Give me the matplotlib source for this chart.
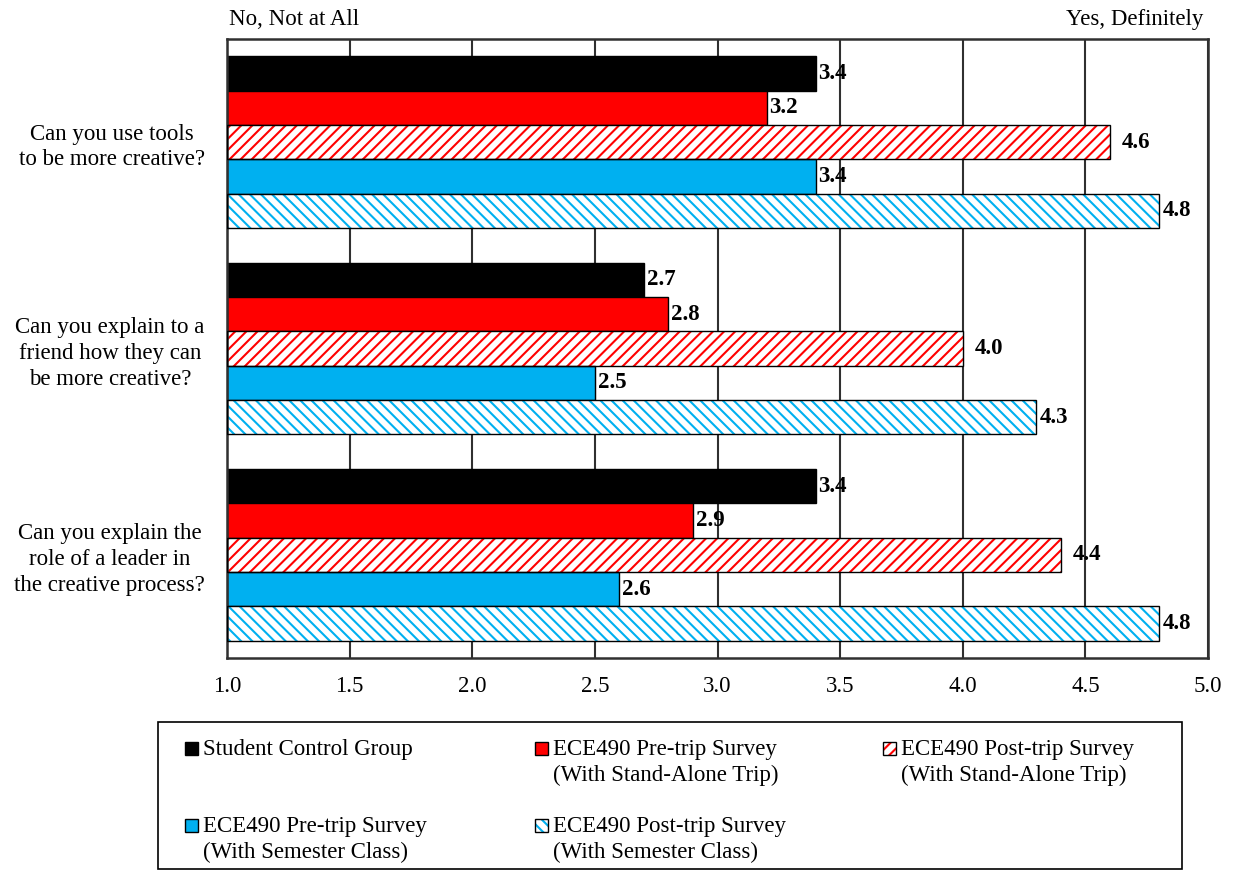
import numpy as np
import matplotlib
matplotlib.use("Agg")
import matplotlib.pyplot as plt
from matplotlib.patches import Rectangle

plt.rcParams['font.family'] = ['Liberation Serif', 'DejaVu Serif']
plt.rcParams['font.size'] = 16.5
plt.rcParams['hatch.linewidth'] = 1.5

# survey questions (y axis) and mean answers per group
questions = ["Can you use tools\nto be more creative?",
             "Can you explain to a\nfriend how they can\nbe more creative?",
             "Can you explain the\nrole of a leader in\nthe creative process?"]

control = [3.4, 2.7, 3.4]
pre_standalone = [3.2, 2.8, 2.9]
post_standalone = [4.6, 4.0, 4.4]
pre_semester = [3.4, 2.5, 2.6]
post_semester = [4.8, 4.3, 4.8]

labels = ["Student Control Group",
          "ECE490 Pre-trip Survey\n(With Stand-Alone Trip)",
          "ECE490 Post-trip Survey\n(With Stand-Alone Trip)",
          "ECE490 Pre-trip Survey\n(With Semester Class)",
          "ECE490 Post-trip Survey\n(With Semester Class)"]

xticks = [1.0, 1.5, 2.0, 2.5, 3.0, 3.5, 4.0, 4.5, 5.0]

RED = '#ff0000'
BLUE = '#00b0f0'
# values, colour, hatch, gap before the value label
series = [
    (control, 'black', None, 0.012),
    (pre_standalone, RED, None, 0.012),
    (post_standalone, RED, '///', 0.05),
    (pre_semester, BLUE, None, 0.012),
    (post_semester, BLUE, '\\\\\\', 0.015),
]

W, H = 1233, 871
fig = plt.figure(figsize=(W/100, H/100), dpi=100)
ax = fig.add_axes([227/W, 1-658/H, (1208-227)/W, (658-39)/H])

y = np.arange(len(questions))
h = 1/6
for i, (vals, col, hatch, gap) in enumerate(series):
    pos = y + (i - 2) * h
    width = np.array(vals) - 1
    if hatch is None:
        ax.barh(pos, width, left=1, height=h, color=col,
                edgecolor='black', linewidth=1, zorder=2)
    else:
        ax.barh(pos, width, left=1, height=h, color='white',
                edgecolor=col, hatch=hatch, linewidth=0, zorder=2)
        ax.barh(pos, width, left=1, height=h, fill=False,
                edgecolor='black', linewidth=1, zorder=3)
    for p, v in zip(pos, vals):
        ax.text(v + gap, p, "%.1f" % v, va='center', ha='left',
                fontweight='bold', zorder=4)

ax.set_xlim(1, 5)
ax.set_ylim(len(questions) - 0.5, -0.5)
ax.set_xticks(xticks)
ax.set_xticklabels(["%.1f" % t for t in xticks])
ax.set_yticks(y)
ax.set_yticklabels(questions)
ax.tick_params(length=0)
ax.tick_params(axis='x', pad=13)
ax.tick_params(axis='y', pad=16)
for lbl in ax.get_yticklabels():
    lbl.set_linespacing(1.3)
    lbl.set_multialignment('center')

ax.xaxis.grid(True, color='#303030', linewidth=1.5)
ax.set_axisbelow(True)
for s in ax.spines.values():
    s.set_color('#303030')
    s.set_linewidth(1.8)

ax.text(0.002, 1.015, "No, Not at All", transform=ax.transAxes, ha='left', va='bottom')
ax.text(0.995, 1.015, "Yes, Definitely", transform=ax.transAxes, ha='right', va='bottom')

# legend box drawn by hand so the three columns get equal widths
fig.patches.append(Rectangle((158/W, 1-869/H), (1182-158)/W, (869-722)/H,
                             transform=fig.transFigure, fill=False,
                             edgecolor='black', linewidth=1.2))
slots = [(185, 742), (535, 742), (883, 742), (185, 819), (535, 819)]
for (x0, y0), (vals, col, hatch, _), lab in zip(slots, series, labels):
    box = (x0/W, 1-(y0+13)/H)
    if hatch is None:
        fig.patches.append(Rectangle(box, 13/W, 13/H, transform=fig.transFigure,
                                     facecolor=col, edgecolor='black', linewidth=1))
    else:
        fig.patches.append(Rectangle(box, 13/W, 13/H, transform=fig.transFigure,
                                     facecolor='white', edgecolor=col,
                                     hatch=hatch, linewidth=0))
        fig.patches.append(Rectangle(box, 13/W, 13/H, transform=fig.transFigure,
                                     fill=False, edgecolor='black', linewidth=1))
    fig.text((x0+18)/W, 1-(y0-3)/H, lab, ha='left', va='top',
             linespacing=1.3)

fig.savefig("out.png", dpi=100)
